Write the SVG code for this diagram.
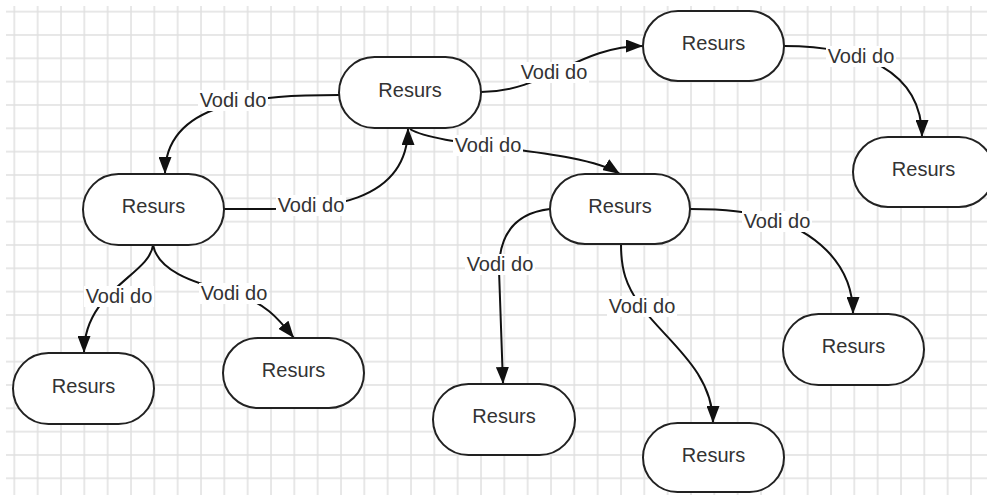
<svg xmlns="http://www.w3.org/2000/svg" width="987" height="495" viewBox="0 0 987 495">
<style>
.node rect{fill:#fff;stroke:#222;stroke-width:2}
.node text{font-family:"Liberation Sans",Arial,sans-serif;font-size:20px;fill:#333;text-anchor:middle}
.edge{fill:none;stroke:#111;stroke-width:2;marker-end:url(#arr)}
.lbl rect{fill:#fff}
.lbl text{font-family:"Liberation Sans",Arial,sans-serif;font-size:20px;fill:#333;text-anchor:middle}
</style>
<defs>
<pattern id="grid" x="13.33" y="10.67" width="23.333" height="23.333" patternUnits="userSpaceOnUse">
<path d="M1,0 V23.333 M0,1 H23.333" stroke="#e0e0e0" stroke-width="1.5" fill="none"/>
</pattern>
<marker id="arr" markerUnits="userSpaceOnUse" viewBox="0 0 17 13" markerWidth="17" markerHeight="13" refX="17" refY="6.5" orient="auto">
<path d="M0,0 L17,6.5 L0,13 z" fill="#111"/>
</marker>
</defs>
<rect width="987" height="495" fill="#fff"/>
<rect x="6" y="6" width="981" height="489" fill="url(#grid)"/>
<g id="connectors">
<path class="edge" d="M339,95 C260,95 165,100 165,174"/>
<path class="edge" d="M224,209 L270,209 C320,209 408,205 408,128"/>
<path class="edge" d="M481,92 C545,92 578,46 643,46"/>
<path class="edge" d="M784,46 C860,46 922,70 922,137"/>
<path class="edge" d="M410,129 C440,148 580,148 620,174"/>
<path class="edge" d="M550,209 C515,213 499,235 499,270 L503,384"/>
<path class="edge" d="M621,244 C621,270 626,285 640,305 C665,340 713,370 713,423"/>
<path class="edge" d="M690,209 C730,209 745,212 770,218 C810,230 853,260 853,314"/>
<path class="edge" d="M153,245 C150,275 84,290 84,353"/>
<path class="edge" d="M153,245 C158,270 190,282 230,292 C265,302 278,318 294,338"/>
<g class="lbl"><rect x="198" y="90" width="70" height="21"/><text x="233" y="107">Vodi do</text></g>
<g class="lbl"><rect x="276" y="195" width="70" height="21"/><text x="311" y="211.5">Vodi do</text></g>
<g class="lbl"><rect x="519" y="62" width="70" height="21"/><text x="554" y="79">Vodi do</text></g>
<g class="lbl"><rect x="826" y="46" width="70" height="21"/><text x="861" y="63">Vodi do</text></g>
<g class="lbl"><rect x="453" y="135" width="70" height="21"/><text x="488" y="151.5">Vodi do</text></g>
<g class="lbl"><rect x="465" y="254" width="70" height="21"/><text x="500" y="270.5">Vodi do</text></g>
<g class="lbl"><rect x="607" y="296" width="70" height="21"/><text x="642" y="312.5">Vodi do</text></g>
<g class="lbl"><rect x="742" y="211" width="70" height="21"/><text x="777" y="227.5">Vodi do</text></g>
<g class="lbl"><rect x="84" y="286" width="70" height="21"/><text x="119" y="302.5">Vodi do</text></g>
<g class="lbl"><rect x="199" y="283" width="70" height="21"/><text x="234" y="300">Vodi do</text></g>
</g>
<g id="nodeA" class="node"><rect x="339" y="57" width="142" height="71" rx="35.5"/><text x="410" y="96.5">Resurs</text></g>
<g id="nodeB" class="node"><rect x="643" y="11" width="141" height="70" rx="35"/><text x="713.5" y="50">Resurs</text></g>
<g id="nodeC" class="node"><rect x="853" y="137" width="141" height="70" rx="35"/><text x="923.5" y="175.5">Resurs</text></g>
<g id="nodeD" class="node"><rect x="83" y="174" width="141" height="71" rx="35.5"/><text x="153.5" y="213">Resurs</text></g>
<g id="nodeE" class="node"><rect x="550" y="174" width="140" height="70" rx="35"/><text x="620" y="213">Resurs</text></g>
<g id="nodeF" class="node"><rect x="13" y="353" width="141" height="71" rx="35.5"/><text x="83.5" y="392.5">Resurs</text></g>
<g id="nodeG" class="node"><rect x="223" y="338" width="141" height="70" rx="35"/><text x="293.5" y="376.5">Resurs</text></g>
<g id="nodeH" class="node"><rect x="433" y="384" width="142" height="71" rx="35.5"/><text x="504" y="423">Resurs</text></g>
<g id="nodeI" class="node"><rect x="643" y="423" width="141" height="69" rx="34.5"/><text x="713.5" y="461.5">Resurs</text></g>
<g id="nodeJ" class="node"><rect x="783" y="314" width="141" height="71" rx="35.5"/><text x="853.5" y="353">Resurs</text></g>
</svg>
